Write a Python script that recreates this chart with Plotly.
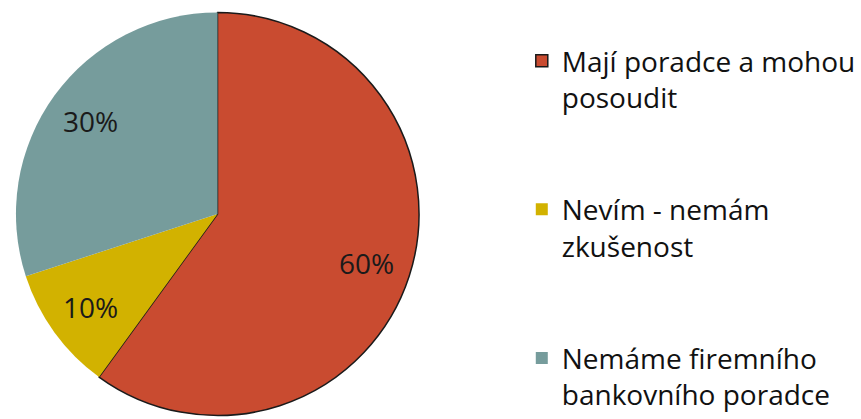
import math
import plotly.graph_objects as go

# Survey answers and their shares (%)
categories = [
    "Mají poradce a mohou<br>posoudit",
    "Nevím - nemám<br>zkušenost",
    "Nemáme firemního<br>bankovního poradce",
]
shares = [60, 10, 30]
slice_colors = ["#C94B30", "#D2B200", "#769C9C"]
outline_colors = ["#1a1a1a", "rgba(0,0,0,0)", "rgba(0,0,0,0)"]
outline_widths = [1.5, 0, 0]

W, H = 861, 419
pie_x = [16 / W, 420 / W]
pie_y = [3 / H, 407 / H]

# Two blank trailing lines spread the legend entries down the side
pad = "<br>\u00a0<br>\u00a0"
legend_names = [c + pad for c in categories[:-1]] + [categories[-1]]

fig = go.Figure(
    go.Pie(
        labels=legend_names,
        values=shares,
        sort=False,
        direction="clockwise",
        rotation=0,
        marker=dict(colors=slice_colors,
                    line=dict(color=outline_colors, width=outline_widths)),
        textinfo="none",
        domain=dict(x=pie_x, y=pie_y),
        hoverinfo="label+percent",
    )
)

# Percentage labels placed along each slice's mid-angle, out towards the rim
cx = (pie_x[0] + pie_x[1]) / 2 * W
cy = (pie_y[0] + pie_y[1]) / 2 * H
radius = (pie_y[1] - pie_y[0]) * H / 2
label_r = 0.78 * radius
total = sum(shares)
cum = 0
for v in shares:
    ang = math.radians(360 * (cum + v / 2) / total)
    cum += v
    px = cx + label_r * math.sin(ang)
    py = cy + label_r * math.cos(ang)
    fig.add_annotation(
        x=px / W, y=py / H, xref="paper", yref="paper",
        text=f"{v}%", showarrow=False,
        xanchor="center", yanchor="middle",
        font=dict(family="Open Sans", size=28, color="#1a1a1a"),
    )

fig.update_layout(
    width=W,
    height=H,
    margin=dict(l=0, r=0, t=0, b=0),
    paper_bgcolor="white",
    plot_bgcolor="white",
    showlegend=True,
    legend=dict(
        x=523 / W,
        y=1 - 53 / H,
        xanchor="left",
        yanchor="top",
        valign="top",
        font=dict(family="Open Sans", size=28, color="#111111"),
        bgcolor="rgba(0,0,0,0)",
        tracegroupgap=0,
        itemclick=False,
    ),
)

fig.write_html("out.html")
